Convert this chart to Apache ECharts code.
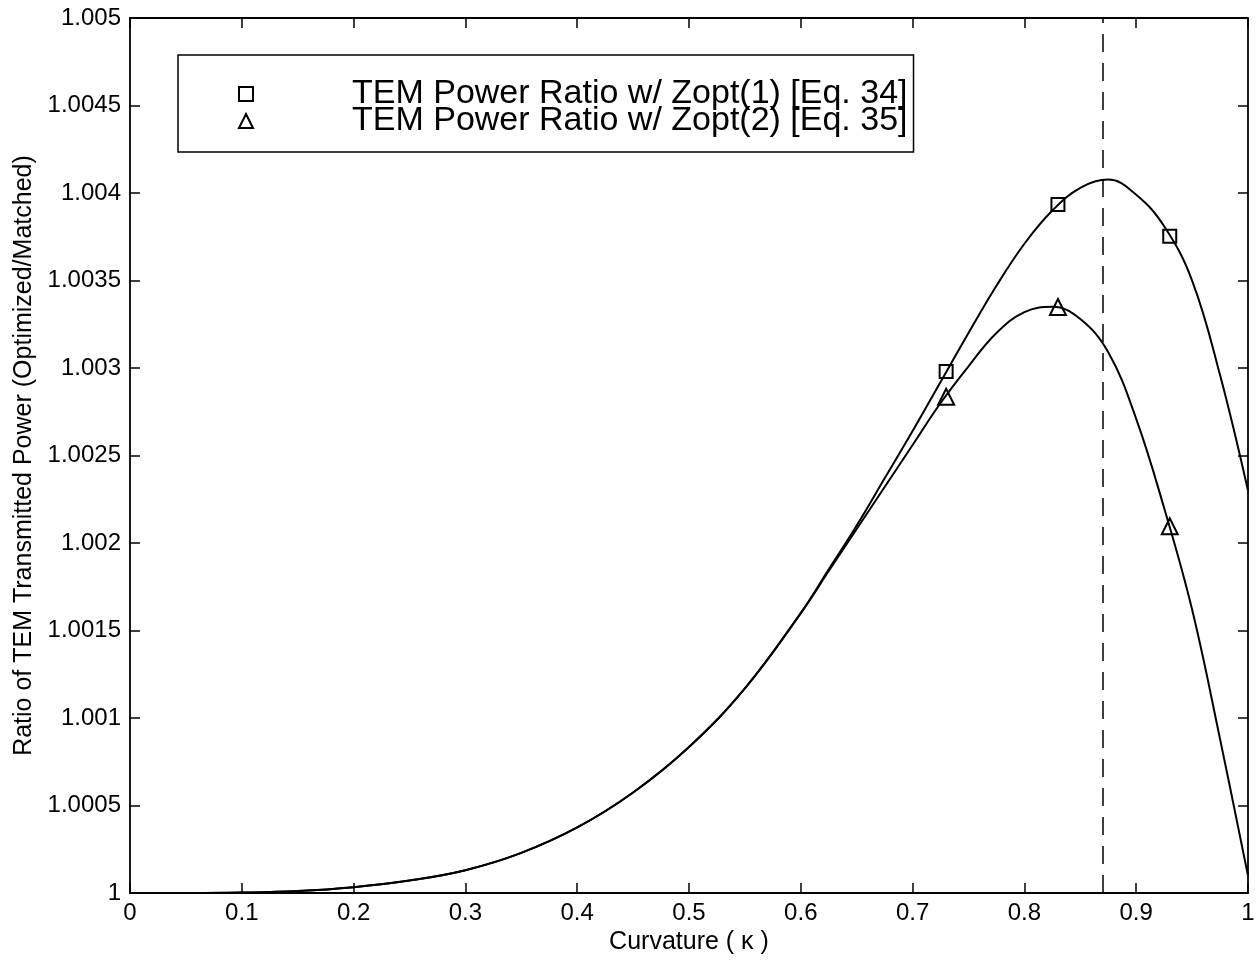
<!DOCTYPE html>
<html>
<head>
<meta charset="utf-8">
<script src="https://cdn.jsdelivr.net/npm/echarts@6/dist/echarts.min.js"></script>
<style>html,body{margin:0;padding:0;background:#fff;}#c{width:1260px;height:960px;}</style>
</head>
<body>
<div id="c"></div>
<script>
// ---- data ----
const kappa = [0, 0.05, 0.1, 0.15, 0.2, 0.25, 0.3, 0.35, 0.4, 0.45, 0.5, 0.55, 0.6, 0.625, 0.65, 0.675, 0.7, 0.725, 0.75, 0.775, 0.8, 0.825, 0.85, 0.875, 0.9, 0.925, 0.95, 0.975, 1.0];
const ratioZopt1 = [1.0, 1.0000003, 1.000003, 1.000012, 1.000034, 1.000072, 1.000131, 1.00023, 1.000375, 1.000575, 1.000835, 1.00117, 1.0016, 1.00185, 1.0021, 1.00237, 1.00264, 1.00292, 1.0032, 1.00347, 1.00371, 1.0039, 1.00403, 1.004077, 1.00399, 1.00381, 1.0035, 1.00296, 1.0023];
const ratioZopt2 = [1.0, 1.0000003, 1.000003, 1.000012, 1.000034, 1.000072, 1.000131, 1.00023, 1.000375, 1.000575, 1.000835, 1.00117, 1.0016, 1.00184, 1.00208, 1.00232, 1.00256, 1.0028, 1.00301, 1.0032, 1.00332, 1.00335, 1.00328, 1.00309, 1.00271, 1.0022, 1.00162, 1.00088, 1.0001];
const markerKappa = [0.73, 0.83, 0.93];
const markerZopt1 = [1.00298, 1.003935, 1.003753];
const markerZopt2 = [1.002836, 1.003349, 1.002096];
const optimalKappa = 0.87;
const xTickLabels = ['0', '0.1', '0.2', '0.3', '0.4', '0.5', '0.6', '0.7', '0.8', '0.9', '1'];
const yTickLabels = ['1', '1.0005', '1.001', '1.0015', '1.002', '1.0025', '1.003', '1.0035', '1.004', '1.0045', '1.005'];
const seriesNames = ['TEM Power Ratio w/ Zopt(1) [Eq. 34]', 'TEM Power Ratio w/ Zopt(2) [Eq. 35]'];
const xTitle = 'Curvature ( \u03ba )';
const yTitle = 'Ratio of TEM Transmitted Power (Optimized/Matched)';

const pairs = (xs, ys) => xs.map((x, i) => [x, ys[i]]);
const FONT = 'Liberation Sans, Arial, Helvetica, sans-serif';
const xIdx = v => Math.round(v * 10);
const yIdx = v => Math.round((v - 1) / 0.0005);

const chart = echarts.init(document.getElementById('c'), null, {renderer: 'canvas'});
const axisCommon = {
  axisLine: {show: true, onZero: false, lineStyle: {color: '#000', width: 1.8}},
  axisTick: {show: true, inside: true, length: 10, lineStyle: {color: '#000', width: 1.5}},
  splitLine: {show: false}
};
chart.setOption({
  animation: false,
  backgroundColor: '#fff',
  grid: {left: 130, right: 12, top: 18, bottom: 64, containLabel: false},
  xAxis: [
    Object.assign({
      type: 'value', min: 0, max: 1, interval: 0.1, position: 'bottom',
      name: xTitle, nameLocation: 'middle', nameGap: 35,
      nameTextStyle: {color: '#000', fontFamily: FONT, fontSize: 25},
      axisLabel: {color: '#000', fontFamily: FONT, fontSize: 24, margin: 8, formatter: v => xTickLabels[xIdx(v)]}
    }, axisCommon),
    Object.assign({
      type: 'value', min: 0, max: 1, interval: 0.1, position: 'top', axisLabel: {show: false}
    }, axisCommon)
  ],
  yAxis: [
    Object.assign({
      type: 'value', min: 1, max: 1.005, interval: 0.0005, position: 'left',
      name: yTitle, nameLocation: 'middle', nameGap: 86, nameRotate: 90,
      nameTextStyle: {color: '#000', fontFamily: FONT, fontSize: 25},
      axisLabel: {color: '#000', fontFamily: FONT, fontSize: 24, margin: 9, formatter: v => yTickLabels[yIdx(v)]}
    }, axisCommon),
    Object.assign({
      type: 'value', min: 1, max: 1.005, interval: 0.0005, position: 'right', axisLabel: {show: false}
    }, axisCommon)
  ],
  legend: {
    left: 178, top: 55, orient: 'vertical',
    data: seriesNames,
    backgroundColor: '#fff',
    borderColor: '#000', borderWidth: 1.5,
    padding: [22, 6, 14, 60],
    itemGap: -7, itemWidth: 14, itemHeight: 14,
    textStyle: {color: '#000', fontFamily: FONT, fontSize: 34, lineHeight: 28, padding: [0, 0, 0, 94]}
  },
  series: [
    {
      type: 'line', name: 'curve1', data: pairs(kappa, ratioZopt1), smooth: 0.4,
      showSymbol: false, symbol: 'none', lineStyle: {color: '#000', width: 2}, z: 2,
      markLine: {
        silent: true, symbol: 'none', label: {show: false},
        lineStyle: {color: '#000', width: 1.5, type: [18, 11]},
        data: [{xAxis: optimalKappa}]
      }
    },
    {
      type: 'line', name: 'curve2', data: pairs(kappa, ratioZopt2), smooth: 0.4,
      showSymbol: false, symbol: 'none', lineStyle: {color: '#000', width: 2}, z: 2
    },
    {
      type: 'scatter', name: seriesNames[0], data: pairs(markerKappa, markerZopt1),
      symbol: 'rect', symbolSize: 13, z: 5,
      itemStyle: {color: 'rgba(255,255,255,0)', borderColor: '#000', borderWidth: 2, opacity: 1}
    },
    {
      type: 'scatter', name: seriesNames[1], data: pairs(markerKappa, markerZopt2),
      symbol: 'triangle', symbolSize: 16, z: 5,
      itemStyle: {color: 'rgba(255,255,255,0)', borderColor: '#000', borderWidth: 2, opacity: 1}
    }
  ]
});
</script>
</body>
</html>
